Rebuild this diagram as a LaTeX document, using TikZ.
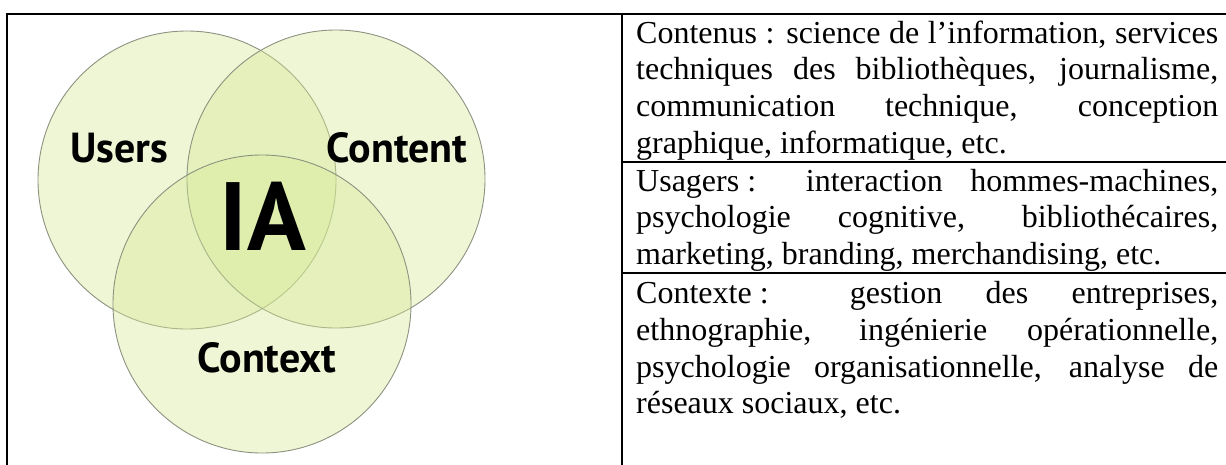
\documentclass[tikz,border=0pt]{standalone}
\usepackage{fontspec}
\setmainfont{Liberation Serif}
\newfontfamily\vennfont{PT Sans}
\definecolor{venngreen}{RGB}{214,232,150}
\definecolor{vennline}{RGB}{140,146,128}
\newcommand{\jline}[1]{\makebox[582pt][s]{#1}\par}
\begin{document}
\begin{tikzpicture}[x=1pt,y=-1pt,
  venn/.style={circle, minimum size=298pt, inner sep=0pt, fill=venngreen, fill opacity=0.4, draw=vennline, line width=0.9pt},
  vlabel/.style={font=\vennfont\bfseries\fontsize{42}{42}\selectfont, anchor=base, inner sep=0pt},
  tablerule/.style={line width=1.6pt, black},
  cell/.style={anchor=base west, inner sep=0pt, font=\fontsize{32}{36.8}\selectfont}]
\useasboundingbox (0,0) rectangle (1226,464);
\clip (0,0) rectangle (1226,464);
% table
\draw[tablerule] (7,480) -- (7,14) -- (1240,14);
\draw[tablerule] (622,14) -- (622,480);
\draw[tablerule] (622,162) -- (1240,162);
\draw[tablerule] (622,273) -- (1240,273);
% venn
\node[venn] (users) at (187,180) {};
\node[venn] (content) at (336,179) {};
\node[venn] (context) at (262,304) {};
\node[vlabel] (lusers) at (119,162) {Users};
\node[vlabel] (lcontent) at (397,162) {Content};
\node[vlabel] (lcontext) at (267,372) {Context};
\node[vlabel, font=\vennfont\bfseries\fontsize{97}{97}\selectfont] (lia) at (263,250) {IA};
% cells
\node[cell] (contenus) at (636,43) {\parbox[t]{582pt}{%
\jline{Contenus : science de l’information, services}%
\jline{techniques des bibliothèques, journalisme,}%
\jline{communication technique, conception}%
graphique, informatique, etc.}};
\node[cell] (usagers) at (636,191) {\parbox[t]{582pt}{%
\jline{Usagers\hspace{8pt}: interaction hommes-machines,}%
\jline{psychologie cognitive, bibliothécaires,}%
marketing, branding, merchandising, etc.}};
\node[cell] (contexte) at (636,303.5) {\parbox[t]{582pt}{%
\jline{Contexte\hspace{8pt}: gestion des entreprises,}%
\jline{ethnographie, ingénierie opérationnelle,}%
\jline{psychologie organisationnelle, analyse de}%
réseaux sociaux, etc.}};
\end{tikzpicture}
\end{document}
